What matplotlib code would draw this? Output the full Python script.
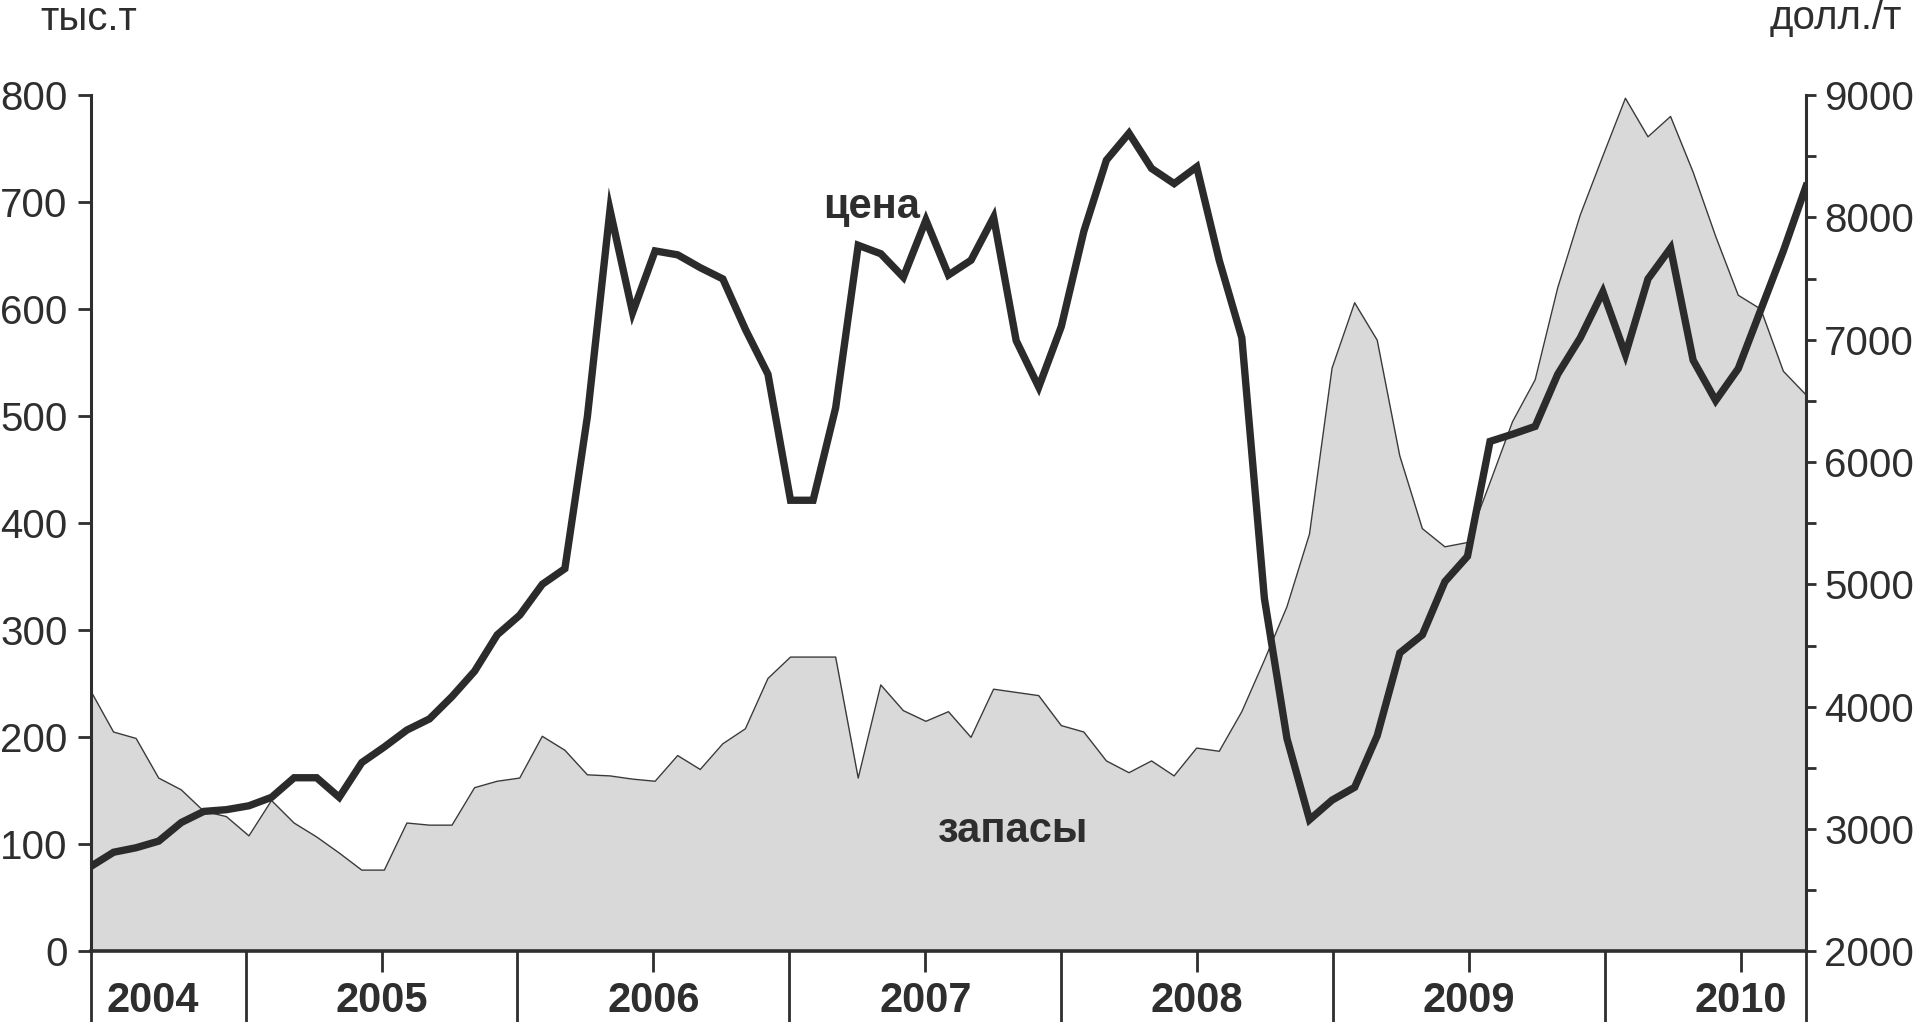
import numpy as np
import matplotlib
matplotlib.use("Agg")
import matplotlib.pyplot as plt
import matplotlib.transforms as mtransforms

plt.rcParams['font.family'] = ['Liberation Sans', 'DejaVu Sans']

# monthly points, June 2004 .. October 2010
stocks = [243, 205, 199, 162, 151, 131, 126, 108, 141, 120,
          107, 92, 76, 76, 120, 118, 118, 153, 159, 162,
          201, 188, 165, 164, 161, 159, 183, 170, 194, 208,
          255, 275, 275, 275, 162, 249, 225, 215, 224, 200,
          245, 242, 239, 211, 205, 178, 167, 178, 164, 190,
          187, 224, 272, 322, 390, 545, 606, 571, 463, 395,
          378, 382, 438, 495, 534, 620, 688, 743, 797, 761,
          780, 728, 668, 613, 600, 542, 520]

price = [2696, 2811, 2848, 2902, 3054, 3145, 3159, 3191, 3260, 3420,
         3420, 3260, 3544, 3672, 3810, 3901, 4084, 4291, 4588, 4749,
         5001, 5129, 6375, 8061, 7222, 7726, 7694, 7589, 7497, 7085,
         6718, 5688, 5688, 6444, 7772, 7703, 7511, 7978, 7529, 7650,
         8001, 6993, 6613, 7108, 7887, 8468, 8688, 8400, 8276, 8413,
         7648, 7016, 4886, 3741, 3077, 3237, 3342, 3764, 4440, 4588,
         5023, 5230, 6169, 6228, 6292, 6718, 7016, 7392, 6879, 7497,
         7749, 6833, 6503, 6764, 7245, 7726, 8253]

years = ['2004', '2005', '2006', '2007', '2008', '2009', '2010']

x = np.arange(len(price))
n_last = len(price) - 1

# year boundaries on the month index scale
year_start = 6.85
year_len = 12.05
edges = year_start + year_len * np.arange(len(years) - 1)
centers = edges + year_len / 2
label_x = [2.75] + list(centers)

dark = '#2e2e2e'
fs = 29

fig = plt.figure(figsize=(19.2, 10.22), dpi=100)
ax = fig.add_axes([0.0474, 0.069, 0.8932, 0.838])

ax.fill_between(x, stocks, 0, color='#d9d9d9', lw=0)
ax.plot(x, stocks, color='#3a3a3a', lw=1.0)
ax.set_xlim(0, n_last)
ax.set_ylim(0, 800)
ax.set_yticks(range(0, 801, 100))

ax2 = ax.twinx()
ax2.plot(x, price, color='#2b2b2b', lw=5.3, solid_joinstyle='miter')
ax2.set_ylim(2000, 9000)
ax2.set_yticks(range(2000, 9001, 1000))
ax2.set_yticks(range(2500, 9000, 1000), minor=True)
ax2.set_xlim(0, n_last)

for a in (ax, ax2):
    a.spines['top'].set_visible(False)
ax.spines['right'].set_visible(False)
ax2.spines['left'].set_visible(False)
ax2.spines['bottom'].set_visible(False)
ax.spines['left'].set_linewidth(2.2)
ax.spines['left'].set_color(dark)
ax.spines['bottom'].set_linewidth(2.6)
ax.spines['bottom'].set_color(dark)
ax2.spines['right'].set_linewidth(2.2)
ax2.spines['right'].set_color(dark)

ax.tick_params(axis='y', length=9.4, width=2, color=dark, pad=7.5,
               labelsize=fs, labelcolor=dark)
ax2.tick_params(axis='y', which='both', length=7.2, width=2, color=dark,
                pad=5.8, labelsize=fs, labelcolor=dark)

# long separators between years, short ticks at year middles
ax.set_xticks([0] + list(edges) + [n_last])
ax.set_xticks(centers, minor=True)
ax.tick_params(axis='x', which='major', length=51, width=2, color=dark,
               labelbottom=False)
ax.tick_params(axis='x', which='minor', length=15, width=2, color=dark,
               labelbottom=False)

trans = mtransforms.blended_transform_factory(ax.transData, ax.transAxes)
for lx, yr in zip(label_x, years):
    ax.text(lx, -0.0712, yr, transform=trans, ha='center', va='baseline',
            fontsize=30, fontweight='bold', color=dark, clip_on=False)

ax.text(0.4554, 0.8564, 'цена', transform=ax.transAxes, ha='center',
        va='baseline', fontsize=30, fontweight='bold', color=dark)
ax.text(0.5376, 0.128, 'запасы', transform=ax.transAxes, ha='center',
        va='baseline', fontsize=30, fontweight='bold', color=dark)

fig.text(0.0464, 0.9706, 'тыс.т', ha='center', va='baseline', fontsize=fs,
         color=dark)
fig.text(0.956, 0.9716, 'долл./т', ha='center', va='baseline', fontsize=fs,
         color=dark)

fig.savefig('out.png', dpi=100)
